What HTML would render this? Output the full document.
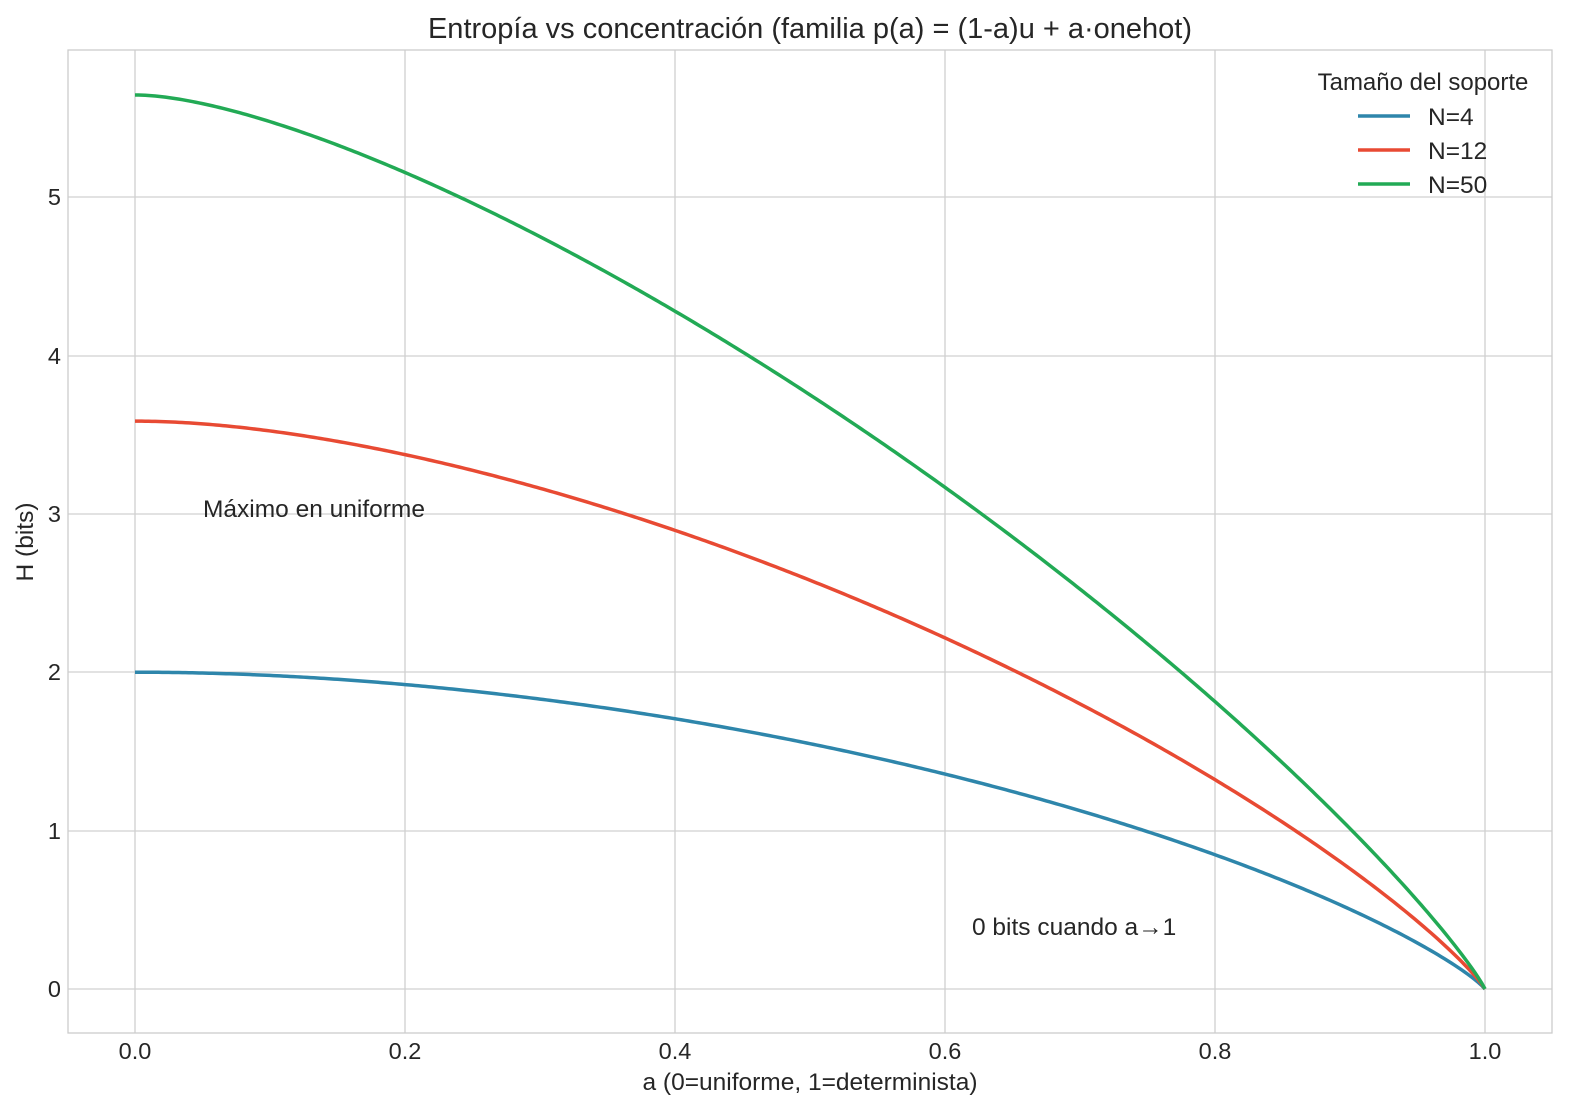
<!DOCTYPE html>
<html><head><meta charset="utf-8"><style>
body{margin:0;background:#fff;}
svg text{font-family:"Liberation Sans",sans-serif;fill:#262626;}
</style></head><body>
<svg id="s" width="1572" height="1113" xmlns="http://www.w3.org/2000/svg">
<rect width="1572" height="1113" fill="#fff"/>
<g stroke="#d0d0d0" stroke-width="1.3">
<line x1="135" y1="50" x2="135" y2="1033"/><line x1="405" y1="50" x2="405" y2="1033"/>
<line x1="675" y1="50" x2="675" y2="1033"/><line x1="945" y1="50" x2="945" y2="1033"/>
<line x1="1215" y1="50" x2="1215" y2="1033"/><line x1="1485" y1="50" x2="1485" y2="1033"/>
<line x1="68" y1="989" x2="1552" y2="989"/><line x1="68" y1="831" x2="1552" y2="831"/>
<line x1="68" y1="672" x2="1552" y2="672"/><line x1="68" y1="514" x2="1552" y2="514"/>
<line x1="68" y1="356" x2="1552" y2="356"/><line x1="68" y1="197" x2="1552" y2="197"/>
</g>
<rect x="68" y="50" width="1484" height="983" fill="none" stroke="#cccccc" stroke-width="1.3"/>
<g id="curves" fill="none" stroke-width="3.5"></g>
<g font-size="23.5" text-anchor="middle">
<text x="135" y="1059">0.0</text><text x="405" y="1059">0.2</text><text x="675" y="1059">0.4</text>
<text x="945" y="1059">0.6</text><text x="1215" y="1059">0.8</text><text x="1485" y="1059">1.0</text>
</g>
<g font-size="23.5" text-anchor="end">
<text x="61" y="997">0</text><text x="61" y="839">1</text><text x="61" y="680">2</text>
<text x="61" y="522">3</text><text x="61" y="364">4</text><text x="61" y="205">5</text>
</g>
<text x="810" y="1090" font-size="24.5" text-anchor="middle">a (0=uniforme, 1=determinista)</text>
<text transform="translate(33,542) rotate(-90)" font-size="24.5" text-anchor="middle">H (bits)</text>
<text x="810" y="38" font-size="29" text-anchor="middle">Entropía vs concentración (familia p(a) = (1-a)u + a·onehot)</text>
<text x="203" y="517" font-size="24.5">Máximo en uniforme</text>
<text x="972" y="935" font-size="24.5">0 bits cuando a→1</text>
<text x="1423" y="90" font-size="24" text-anchor="middle">Tamaño del soporte</text>
<line x1="1358" y1="116" x2="1410" y2="116" stroke="#2e86ab" stroke-width="3.5"/>
<line x1="1358" y1="150" x2="1410" y2="150" stroke="#e84a33" stroke-width="3.5"/>
<line x1="1358" y1="184" x2="1410" y2="184" stroke="#22aa55" stroke-width="3.5"/>
<text x="1428" y="125" font-size="24.5">N=4</text>
<text x="1428" y="159" font-size="24.5">N=12</text>
<text x="1428" y="193" font-size="24.5">N=50</text>
</svg>
<script>
var g=document.getElementById('curves');
[[4,'#2e86ab'],[12,'#e84a33'],[50,'#22aa55']].forEach(function(c){
var N=c[0],d='';
for(var i=0;i<=400;i++){var a=i/400;var q=(1-a)/N,p=q+a;var H=0;
if(p>0)H-=p*Math.log2(p);if(q>0)H-=(N-1)*q*Math.log2(q);
d+=(i?'L':'M')+(135+1350*a).toFixed(2)+','+(989-158.4*H).toFixed(2);}
var e=document.createElementNS('http://www.w3.org/2000/svg','path');
e.setAttribute('d',d);e.setAttribute('stroke',c[1]);g.appendChild(e);});
</script>
</body></html>
